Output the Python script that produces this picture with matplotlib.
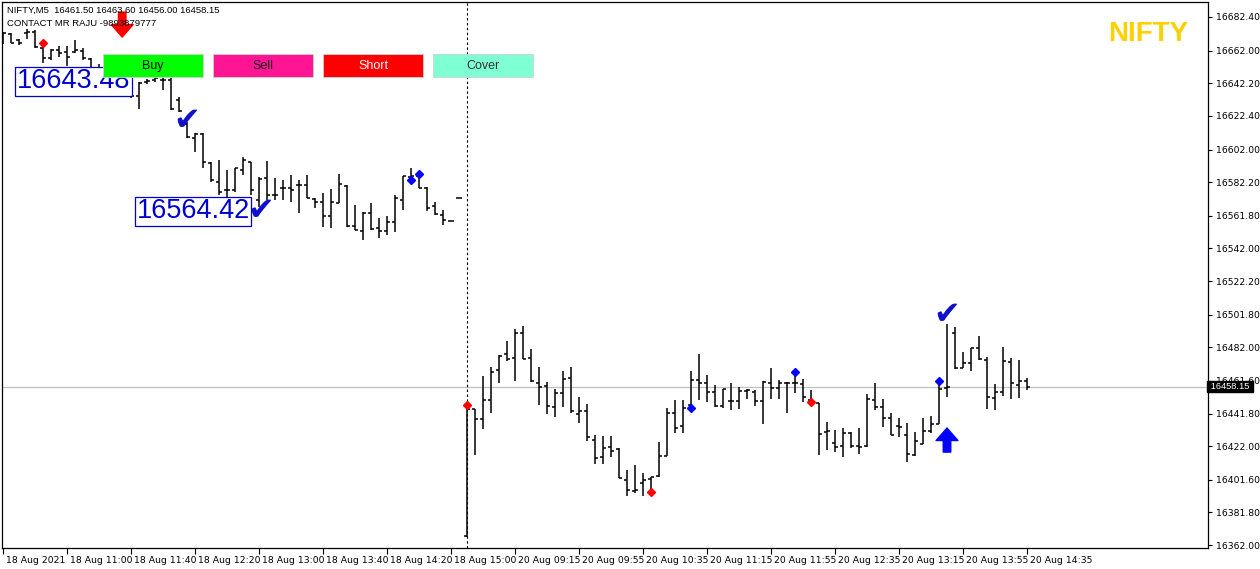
import matplotlib
matplotlib.use("Agg")
import matplotlib.pyplot as plt
import matplotlib.transforms as mtransforms
from matplotlib.patches import Rectangle

# 5分足 OHLC（18 Aug 10:20 〜 20 Aug 14:35）
opens = [16672.7, 16672.1, 16668.4, 16672.7, 16673.3, 16663.6, 16657.5, 16662.4, 16661.1, 16661.1,
         16661.8, 16656.9, 16650.2, 16649.0, 16646.0, 16644.2, 16641.7, 16634.4, 16642.9, 16644.2,
         16644.2, 16644.2, 16632.0, 16617.5, 16609.0, 16611.4, 16593.8, 16582.3, 16577.4, 16577.4,
         16589.5, 16594.4, 16571.3, 16584.7, 16574.4, 16578.6, 16578.6, 16580.4, 16580.4, 16571.9,
         16570.1, 16561.6, 16569.5, 16579.8, 16555.6, 16552.5, 16563.4, 16554.3, 16552.5, 16558.0,
         16571.3, 16585.3, 16585.9, 16578.6, 16567.7, 16562.2, 16558.6, 16572.5,
         16367.5, 16444.5, 16438.5, 16450.0, 16468.2, 16477.9, 16475.5, 16490.6, 16475.5, 16460.3,
         16458.5, 16445.7, 16454.2, 16463.3, 16441.5, 16443.3, 16425.7, 16415.4, 16421.5, 16420.2,
         16401.4, 16394.8, 16399.6, 16402.0, 16403.9, 16416.0, 16442.1, 16434.2, 16446.9, 16462.1,
         16460.3, 16454.8, 16446.3, 16449.4, 16449.4, 16455.4, 16454.8, 16449.4, 16460.3, 16457.3,
         16460.3, 16460.3, 16459.7, 16450.0, 16448.2, 16430.6, 16423.9, 16422.1, 16430.0, 16422.1,
         16422.1, 16450.0, 16445.7, 16439.1, 16434.2, 16428.7, 16416.6, 16423.3, 16431.2, 16435.4,
         16457.3, 16490.6, 16469.4, 16472.4, 16481.5, 16474.3, 16451.2, 16454.8, 16473.0, 16459.1,
         16461.5]
highs = [16673.3, 16672.7, 16669.0, 16675.1, 16674.5, 16664.2, 16663.0, 16664.8, 16664.8, 16668.4,
         16663.6, 16657.5, 16653.9, 16651.4, 16652.6, 16646.0, 16642.9, 16642.9, 16644.8, 16647.8,
         16646.0, 16646.0, 16633.8, 16618.7, 16612.0, 16612.0, 16594.4, 16595.6, 16589.5, 16590.8,
         16597.4, 16594.4, 16585.3, 16595.0, 16584.7, 16583.5, 16586.5, 16583.5, 16586.5, 16572.5,
         16575.6, 16578.0, 16587.1, 16580.4, 16568.3, 16564.1, 16569.5, 16560.4, 16561.6, 16574.4,
         16585.9, 16590.8, 16586.5, 16579.2, 16570.1, 16565.3, 16558.6, 16572.5,
         16446.3, 16444.5, 16464.5, 16470.0, 16477.3, 16485.8, 16493.1, 16494.9, 16480.9, 16470.0,
         16460.9, 16456.7, 16467.6, 16470.0, 16451.8, 16447.5, 16428.7, 16428.1, 16428.1, 16420.9,
         16407.5, 16410.5, 16405.7, 16403.2, 16424.5, 16445.1, 16450.0, 16450.0, 16467.6, 16477.9,
         16465.1, 16459.1, 16456.7, 16460.3, 16457.9, 16456.7, 16456.1, 16461.5, 16469.4, 16462.1,
         16460.9, 16466.4, 16462.7, 16456.1, 16448.2, 16436.6, 16431.8, 16433.0, 16430.6, 16433.0,
         16453.6, 16460.3, 16450.6, 16442.1, 16439.1, 16436.0, 16430.6, 16439.1, 16440.3, 16460.3,
         16496.1, 16494.3, 16479.1, 16481.5, 16488.8, 16476.1, 16459.7, 16482.1, 16475.5, 16474.3,
         16463.6]
lows = [16666.0, 16666.6, 16665.4, 16669.0, 16663.6, 16654.5, 16656.3, 16658.1, 16652.6, 16660.5,
        16656.3, 16647.2, 16644.2, 16644.8, 16644.2, 16633.8, 16633.2, 16626.6, 16641.7, 16642.9,
        16638.1, 16625.9, 16624.7, 16609.0, 16600.5, 16590.8, 16582.3, 16574.4, 16572.5, 16576.2,
        16586.5, 16574.4, 16567.1, 16571.3, 16571.3, 16571.3, 16570.1, 16563.4, 16572.5, 16566.5,
        16554.9, 16554.3, 16569.5, 16554.9, 16553.1, 16547.1, 16553.1, 16548.3, 16550.1, 16551.9,
        16565.3, 16583.5, 16578.6, 16564.7, 16562.2, 16556.2, 16558.6, 16572.5,
        16366.9, 16416.6, 16432.4, 16442.1, 16460.3, 16473.6, 16461.5, 16474.9, 16460.9, 16446.9,
        16441.5, 16439.7, 16445.7, 16442.1, 16436.0, 16425.1, 16411.1, 16411.1, 16415.4, 16402.7,
        16391.7, 16393.5, 16391.7, 16392.9, 16403.2, 16416.0, 16430.0, 16430.0, 16445.1, 16450.0,
        16448.8, 16445.7, 16445.1, 16443.9, 16444.5, 16450.6, 16446.3, 16435.4, 16450.6, 16450.6,
        16442.1, 16454.2, 16448.8, 16448.2, 16416.6, 16419.6, 16418.4, 16415.4, 16420.9, 16417.2,
        16421.5, 16443.9, 16433.6, 16428.7, 16427.5, 16412.4, 16416.0, 16423.3, 16430.0, 16435.4,
        16451.8, 16468.8, 16469.4, 16467.6, 16474.3, 16444.5, 16443.9, 16452.4, 16450.6, 16451.2,
        16456.0]
closes = [16672.7, 16666.6, 16666.6, 16673.3, 16664.2, 16657.5, 16662.4, 16660.5, 16658.1, 16662.4,
          16657.5, 16650.2, 16646.6, 16645.4, 16650.2, 16636.9, 16634.4, 16642.3, 16643.5, 16645.4,
          16644.2, 16626.6, 16625.3, 16609.6, 16611.4, 16594.4, 16583.5, 16576.2, 16577.4, 16590.8,
          16595.6, 16577.4, 16584.1, 16574.4, 16574.4, 16578.6, 16577.4, 16580.4, 16572.5, 16570.1,
          16561.6, 16570.1, 16581.1, 16555.6, 16553.1, 16563.4, 16553.7, 16552.5, 16558.0, 16572.5,
          16585.9, 16585.9, 16578.6, 16566.5, 16562.8, 16559.2, 16558.6, 16572.5,
          16444.5, 16438.5, 16450.0, 16467.0, 16476.7, 16474.9, 16490.6, 16474.9, 16461.5, 16457.9,
          16446.3, 16454.2, 16462.7, 16443.3, 16443.3, 16427.5, 16414.8, 16420.9, 16419.0, 16402.7,
          16395.4, 16395.4, 16401.4, 16403.2, 16416.0, 16442.1, 16433.0, 16445.1, 16462.1, 16460.3,
          16454.8, 16446.3, 16456.7, 16449.4, 16455.4, 16456.1, 16449.4, 16460.9, 16457.3, 16460.3,
          16460.3, 16460.3, 16451.8, 16448.8, 16429.3, 16431.2, 16421.5, 16430.0, 16422.1, 16421.5,
          16450.6, 16445.7, 16439.1, 16428.7, 16433.6, 16417.2, 16425.1, 16431.2, 16435.4, 16456.7,
          16457.9, 16469.4, 16472.4, 16481.5, 16474.9, 16451.8, 16454.8, 16473.6, 16460.3, 16461.5,
          16458.15]

day_start = 58  # 20 Aug の最初の足

time_labels = ["18 Aug 2021", "18 Aug 11:00", "18 Aug 11:40", "18 Aug 12:20", "18 Aug 13:00",
               "18 Aug 13:40", "18 Aug 14:20", "18 Aug 15:00", "20 Aug 09:15", "20 Aug 09:55",
               "20 Aug 10:35", "20 Aug 11:15", "20 Aug 11:55", "20 Aug 12:35", "20 Aug 13:15",
               "20 Aug 13:55", "20 Aug 14:35"]
price_ticks = [16682.40, 16662.00, 16642.20, 16622.40, 16602.00, 16582.20, 16561.80, 16542.00,
               16522.20, 16501.80, 16482.00, 16461.60, 16441.80, 16422.00, 16401.60, 16381.80,
               16362.00]

# シグナル
red_dot_idx = [5, 58, 81, 101]
red_dot_px = [16666.6, 16446.9, 16394.2, 16448.8]
blue_dot_idx = [51, 52, 86, 99, 117]
blue_dot_px = [16583.5, 16587.1, 16445.1, 16467.0, 16461.5]
check_idx = [23, 32.2, 118]
check_px = [16618.7, 16564.1, 16501.0]
label_idx = [1.7, 16.7]
label_px = [16643.48, 16564.42]
sell_arrow = (14.9, 16685.4, 16670.2)
buy_arrow = (118, 16418.4, 16433.0)

W, H = 1260, 569
fig = plt.figure(figsize=(W / 100, H / 100), dpi=100)
ax = fig.add_axes([2 / W, (H - 548) / H, 1206 / W, 546 / H])
plt.rcParams["font.family"] = ["Liberation Sans", "DejaVu Sans"]

n = len(opens)
xs = list(range(n))
tick = 0.4

ax.axhline(closes[-1], color="#C0C0C0", lw=0.9, zorder=1)
ax.axvline(day_start, color="black", lw=0.8, linestyle=(0, (2.2, 2.2)), zorder=1)

ax.vlines(xs, lows, highs, colors="black", lw=1.1, zorder=2)
ax.hlines(opens, [x - tick for x in xs], xs, colors="black", lw=1.1, zorder=2)
ax.hlines(closes, xs, [x + tick for x in xs], colors="black", lw=1.1, zorder=2)

ax.plot(red_dot_idx, red_dot_px, "D", color="red", ms=4.2, zorder=3)
ax.plot(blue_dot_idx, blue_dot_px, "D", color="blue", ms=4.2, zorder=3)

for x, y in zip(label_idx, label_px):
    ax.text(x, y, f"{y:.2f}", color="#0000CD", fontsize=19.5, ha="left", va="center",
            bbox=dict(boxstyle="square,pad=0.06", fc="white", ec="#0000CD", lw=0.9), zorder=5)

# チェックマークはラベル枠の上に描く
for x, y in zip(check_idx, check_px):
    ax.text(x, y, "\u2714", color="#1010CC", fontsize=23, ha="center", va="center",
            family="DejaVu Sans", zorder=6)

for (x, y0, y1), c in [(sell_arrow, "red"), (buy_arrow, "blue")]:
    ax.annotate("", xy=(x, y1), xytext=(x, y0),
                arrowprops=dict(arrowstyle="simple,head_length=0.6,head_width=1.05,tail_width=0.36",
                                fc=c, ec=c, shrinkA=0, shrinkB=0, mutation_scale=15),
                zorder=6, annotation_clip=False)

ax.set_xlim(-0.125, 150.625)
ax.set_ylim(16360.2, 16691.5)

ax.set_xticks(xs[::8])
ax.set_xticklabels(time_labels, fontsize=6.7)
ax.tick_params(axis="x", length=4, width=0.8, pad=1.5)
shift = mtransforms.ScaledTranslation(2 / 72, 0, fig.dpi_scale_trans)
for lab in ax.get_xticklabels():
    lab.set_horizontalalignment("left")
    lab.set_transform(lab.get_transform() + shift)

ax.yaxis.tick_right()
ax.set_yticks(price_ticks)
ax.set_yticklabels([f"{p:.2f}" for p in price_ticks], fontsize=6.7)
ax.tick_params(axis="y", length=3, width=0.8, pad=2.5)
for s in ax.spines.values():
    s.set_linewidth(0.9)

# 現在値ラベル（16461.60 の目盛りに重なるのは元チャートと同じ）
ax.text(1.0, closes[-1], f" {closes[-1]:.2f} ", transform=ax.get_yaxis_transform(),
        fontsize=6.7, color="white", ha="left", va="center",
        bbox=dict(boxstyle="square,pad=0.15", fc="black", ec="black"),
        clip_on=False, zorder=10)

# ヘッダー
fig.text(7 / W, 1 - 10 / H, "NIFTY,M5  16461.50 16463.60 16456.00 16458.15", fontsize=6.8, va="center")
fig.text(7 / W, 1 - 23 / H, "CONTACT MR RAJU -9893879777", fontsize=6.8, va="center")
fig.text(1188 / W, 1 - 34 / H, "NIFTY", fontsize=20, fontweight="bold", color="#FFD000",
         ha="right", va="center")

# ボタン
buttons = [("Buy", "#00FF00", "black"), ("Sell", "#FF1493", "#1a1a1a"),
           ("Short", "#FF0000", "white"), ("Cover", "#7FFFD4", "#333333")]
for k, (name, bg, fg) in enumerate(buttons):
    bx = 103 + 110 * k
    fig.add_artist(Rectangle((bx / W, 1 - 77 / H), 100 / W, 23 / H, transform=fig.transFigure,
                             fc=bg, ec="#d0d0d0", lw=0.6))
    fig.text((bx + 50) / W, 1 - 66 / H, name, fontsize=9, color=fg, ha="center", va="center")

plt.savefig("out.png", dpi=100)
